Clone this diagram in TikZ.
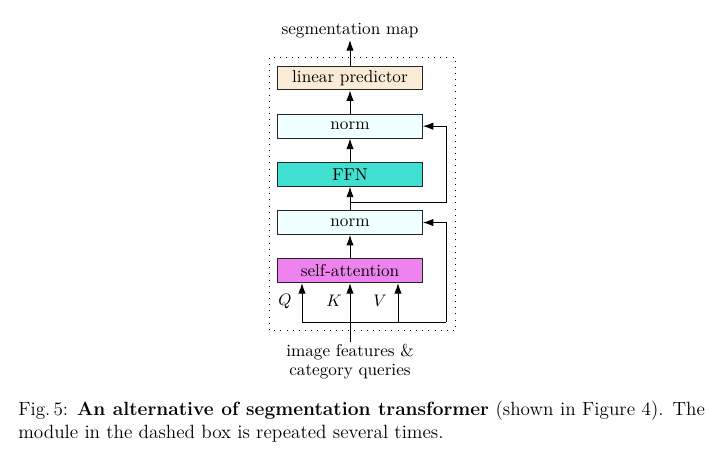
\documentclass[tikz,border=0pt]{standalone}
\usepackage{amsmath}
\usepackage{tikz}
\usetikzlibrary{arrows.meta,positioning,calc}
\definecolor{predcol}{HTML}{FAEBD7}
\definecolor{normcol}{HTML}{F0FFFF}
\definecolor{ffncol}{HTML}{40E0D0}
\definecolor{attcol}{HTML}{EE82EE}
\tikzset{
  % Layer box: one block of the repeated module
  blk/.style={draw=black!85, rectangle, minimum width=3.05cm, minimum height=5.0mm,
              inner sep=1pt, line width=0.6pt, font=\fontsize{10.3}{12.4}\selectfont},
  % Plain label (inputs, outputs, Q/K/V)
  lbl/.style={inner sep=1pt, align=center, font=\fontsize{10.3}{11.8}\selectfont},
  % Arrows
  flowarr/.style={-{Latex[length=6.3pt,width=4.4pt]}, line width=0.6pt},
  flowline/.style={line width=0.6pt},
  % Repeated module enclosure
  module/.style={line width=0.6pt, dash pattern=on 0.6pt off 3.1pt}
}
\begin{document}
\begin{tikzpicture}[x=0.6pt, y=-0.6pt, node distance=4.95mm]
\useasboundingbox (0,0) rectangle (719,460);

% Stack of layers, bottom-up flow: self-attention -> norm -> FFN -> norm -> linear predictor
\node[blk, fill=predcol] (pred) at (350,78) {linear predictor};
\node[blk, fill=normcol, below=of pred] (normB) {norm};
\node[blk, fill=ffncol, below=of normB] (ffn) {FFN};
\node[blk, fill=normcol, below=of ffn] (normA) {norm};
\node[blk, fill=attcol, below=of normA] (att) {self-attention};

\node[lbl, above=5.4mm of pred] (out) {segmentation map};
\node[lbl, below=12.4mm of att] (inp) {image features \&\\category queries};

% Q, K, V taps
\coordinate (qtap) at (302,322);
\coordinate (vtap) at (398,322);
\coordinate (rtap) at (446,322);
\coordinate (ffnin) at (350,202);
\node[lbl] (qlab) at (285,301) {$Q$};
\node[lbl] (klab) at (334,301) {$K$};
\node[lbl] (vlab) at (380,301) {$V$};

% Arrows
\draw[flowarr] (pred.north) -- (out.south);
\draw[flowarr] (normB.north) -- (pred.south);
\draw[flowarr] (ffn.north) -- (normB.south);
\draw[flowarr] (normA.north) -- (ffn.south);
\draw[flowarr] (att.north) -- (normA.south);
\draw[flowarr] (inp.north) -- (att.south);
\draw[flowarr] (qtap) -- (qtap |- att.south);
\draw[flowarr] (vtap) -- (vtap |- att.south);

% Residual connections
\draw[flowline] (qtap) -- (rtap);
\draw[flowarr] (rtap) |- (normA.east);
\draw[flowarr] (ffnin) -| (rtap |- normB.east) -- (normB.east);

% Repeated module (dotted box)
\draw[module] ($(pred.north west)+(-8,-8)$) rectangle ($(att.south east)+(33,47)$);

% Caption
\node[anchor=north west, inner sep=0pt, text width=412pt, align=justify,
      font=\fontsize{11.5}{13.8}\selectfont] (cap) at (18,401)
  {Fig.\,5: \textbf{An alternative of segmentation transformer} (shown in Figure 4). The module in the dashed box is repeated several times.};

\end{tikzpicture}
\end{document}
